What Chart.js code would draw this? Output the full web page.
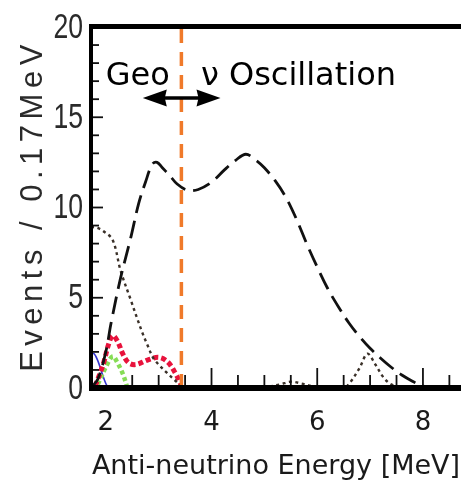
<!DOCTYPE html>
<html>
<head>
<meta charset="utf-8">
<script src="https://cdn.jsdelivr.net/npm/chart.js@4"></script>
<style>
html,body{margin:0;padding:0;background:#fff;overflow:hidden;}
canvas{display:block;}
</style>
</head>
<body>
<canvas id="c" width="461" height="484"></canvas>
<script>
// ---- data ----
const reactorX = [1.72,1.85,2.0,2.1,2.28,2.47,2.62,2.75,2.88,2.97,3.07,3.2,3.35,3.55,3.75,4.0,4.25,4.45,4.65,4.85,5.0,5.2,5.4,5.6,5.8,6.0,6.2,6.4,6.6,6.8,7.0,7.2,7.4,7.6,7.8,8.0,8.3,8.72];
const reactorY = [0,0.5,2.0,3.6,6.1,8.3,10.2,11.4,12.4,12.5,12.2,11.8,11.3,10.95,11.0,11.4,12.1,12.6,12.95,12.6,12.2,11.5,10.6,9.4,8.0,6.7,5.5,4.5,3.6,2.85,2.2,1.65,1.15,0.72,0.38,0.1,0,0];
const bgX = [1.72,1.81,1.95,2.13,2.28,2.47,2.6,2.7,2.8,2.89,3.0,3.17,3.3,3.42,3.6,4.0,4.5,5.0,5.3,5.5,5.7,5.9,6.1,6.5,6.62,6.8,6.95,7.1,7.25,7.4,7.6,8.0,8.72];
const bgY = [8.9,8.9,8.7,8.2,6.5,4.9,3.8,3.0,2.3,1.7,1.3,0.8,0.45,0.15,0.05,0,0,0.05,0.2,0.35,0.25,0.1,0,0,0.3,1.1,1.9,1.3,0.6,0.2,0.05,0,0];
const geoX = [1.8,1.96,2.05,2.13,2.22,2.32,2.43,2.57,2.79,3.0,3.17,3.32,3.42];
const geoY = [0.1,1.4,2.4,2.9,2.6,1.9,1.4,1.3,1.55,1.7,1.45,0.8,0.2];
const thX = [1.85,2.0,2.13,2.22,2.32,2.4];
const thY = [0.2,1.15,1.75,1.4,0.8,0.1];
const uX = [1.72,1.78,1.85,1.92,2.0,2.05];
const uY = [1.9,1.9,1.5,0.9,0.25,0];
const cutX = [3.43,3.43];
const cutY = [0,20];

const xTicks = [2,4,6,8];
const xTickLabels = ['2','4','6','8'];
const yTicks = [0,5,10,15,20];
const yTickLabels = ['0','5','10','15','20'];
const xTitle = 'Anti-neutrino Energy [MeV]';
const yTitle = 'Events / 0.17MeV';
const labelGeo = 'Geo';
const labelOsc = 'ν Oscillation';

// ---- helpers ----
const pts = (xs, ys) => xs.map((x, i) => ({x, y: ys[i]}));

const decor = {
  id: 'decor',
  afterDraw(chart) {
    const ctx = chart.ctx;
    const xs = chart.scales.x, ys = chart.scales.y;
    const a = chart.chartArea;
    ctx.save();
    // inner ticks
    ctx.strokeStyle = '#111';
    ctx.lineWidth = 1.8;
    for (let v = 0; v <= 20; v++) {
      const py = ys.getPixelForValue(v);
      const len = (v % 5 === 0) ? 12 : 8;
      ctx.beginPath(); ctx.moveTo(a.left, py); ctx.lineTo(a.left + len, py); ctx.stroke();
    }
    for (let v = 2.5; v <= 8.5; v += 0.5) {
      const px = xs.getPixelForValue(v);
      const len = (xTicks.includes(v)) ? 20 : 13;
      ctx.beginPath(); ctx.moveTo(px, a.bottom); ctx.lineTo(px, a.bottom - len); ctx.stroke();
    }
    // frame
    ctx.fillStyle = '#000';
    ctx.fillRect(a.left - 2, a.top - 3, a.right - a.left + 4, 5);
    ctx.fillRect(a.left - 2, a.top - 3, 4, a.bottom - a.top + 6);
    ctx.fillRect(a.left - 2, a.bottom - 3, a.right - a.left + 4, 6);
    // y tick labels
    ctx.fillStyle = '#2a2a2a';
    ctx.font = '35px "Liberation Sans", Arial, sans-serif';
    ctx.textAlign = 'right';
    ctx.textBaseline = 'middle';
    yTicks.forEach((v, i) => {
      ctx.save();
      ctx.translate(a.left - 8, ys.getPixelForValue(v) + 1);
      ctx.scale(0.76, 1);
      ctx.fillText(yTickLabels[i], 0, 0);
      ctx.restore();
    });
    // y title
    ctx.save();
    ctx.translate(33, (a.top + a.bottom) / 2 + 1);
    ctx.rotate(-Math.PI / 2);
    ctx.font = '31px "Liberation Sans", Arial, sans-serif';
    if ('letterSpacing' in ctx) ctx.letterSpacing = '5.5px';
    ctx.textAlign = 'center';
    ctx.textBaseline = 'middle';
    ctx.fillStyle = '#2a2a2a';
    ctx.fillText(yTitle, 3, 0);
    ctx.restore();
    // annotation text
    ctx.fillStyle = '#000';
    ctx.font = '32px "DejaVu Sans", sans-serif';
    ctx.textAlign = 'left';
    ctx.textBaseline = 'alphabetic';
    const by = ys.getPixelForValue(16.79);
    ctx.fillText(labelGeo, xs.getPixelForValue(2.0), by);
    ctx.fillText(labelOsc, xs.getPixelForValue(3.8), by);
    // double arrow
    const ay = ys.getPixelForValue(16.07);
    const x1 = xs.getPixelForValue(2.7), x2 = xs.getPixelForValue(4.17);
    ctx.strokeStyle = '#000'; ctx.lineWidth = 3.5;
    ctx.beginPath(); ctx.moveTo(x1 + 15, ay); ctx.lineTo(x2 - 15, ay); ctx.stroke();
    ctx.beginPath(); ctx.moveTo(x1, ay); ctx.lineTo(x1 + 24, ay - 8.5); ctx.lineTo(x1 + 22, ay); ctx.lineTo(x1 + 24, ay + 8.5); ctx.closePath(); ctx.fill();
    ctx.beginPath(); ctx.moveTo(x2, ay); ctx.lineTo(x2 - 24, ay - 8.5); ctx.lineTo(x2 - 22, ay); ctx.lineTo(x2 - 24, ay + 8.5); ctx.closePath(); ctx.fill();
    ctx.restore();
  }
};

const line = (data, color, width, dash, order, tension = 0.35) => ({
  data, borderColor: color, borderWidth: width, borderDash: dash, order,
  showLine: true, pointRadius: 0, fill: false, tension, borderCapStyle: 'butt'
});

new Chart(document.getElementById('c'), {
  type: 'scatter',
  data: {
    datasets: [
      line(pts(cutX, cutY), '#f07a2a', 3.5, [14, 9], 0, 0),
      line(pts(reactorX, reactorY), '#111', 2.8, [18, 8], 1),
      line(pts(bgX, bgY), '#3a3028', 2.4, [3, 3.5], 2),
      line(pts(geoX, geoY), '#e8123c', 5, [5, 3], 3),
      line(pts(thX, thY), '#86dc55', 4.5, [4, 3], 4),
      line(pts(uX, uY), '#3434d0', 1.6, [], 5)
    ]
  },
  options: {
    responsive: false,
    animation: false,
    devicePixelRatio: 1,
    layout: {padding: {top: 27, right: 0, left: 0, bottom: 0}},
    plugins: {legend: {display: false}, tooltip: {enabled: false}},
    scales: {
      x: {
        type: 'linear', min: 1.72, max: 8.72,
        border: {display: false},
        grid: {display: false, drawTicks: false},
        afterBuildTicks: s => { s.ticks = xTicks.map(v => ({value: v})); },
        afterFit: s => { s.height = 96; },
        ticks: {
          autoSkip: false, maxRotation: 0, padding: 20, color: '#1a1a1a',
          font: {family: 'DejaVu Sans', size: 26},
          callback: v => { const i = xTicks.indexOf(v); return i >= 0 ? xTickLabels[i] : ''; }
        },
        title: {display: true, text: xTitle, color: '#1a1a1a', padding: {top: 0, bottom: 1},
                font: {family: 'DejaVu Sans', size: 27}}
      },
      y: {
        type: 'linear', min: 0, max: 20,
        border: {display: false},
        grid: {display: false, drawTicks: false},
        ticks: {display: false},
        afterFit: s => { s.width = 91; }
      }
    }
  },
  plugins: [decor]
});
</script>
</body>
</html>
